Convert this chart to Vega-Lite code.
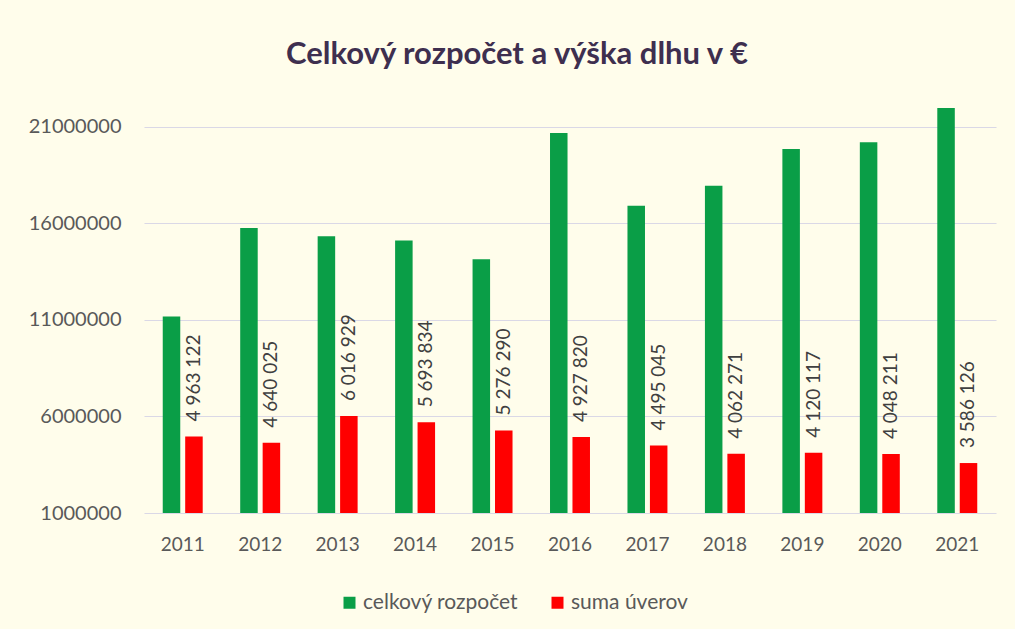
{
  "$schema": "https://vega.github.io/schema/vega-lite/v6.json",
  "width": 852,
  "height": 425,
  "autosize": {"type": "none"},
  "padding": {"left": 144, "top": 88, "right": 19, "bottom": 116},
  "background": "#FFFDEB",
  "config": {
    "view": {"stroke": null},
    "font": "Lato",
    "locale": {"number": {"decimal": ",", "thousands": " ", "grouping": [3], "currency": ["", " €"]}}
  },
  "title": {
    "text": "Celkový rozpočet a výška dlhu v €",
    "fontSize": 31,
    "fontWeight": "bold",
    "font": "Lato",
    "color": "#3E2F4F",
    "anchor": "middle",
    "dx": -53,
    "offset": 17
  },
  "data": {
    "values": [
      {"rok": "2011", "séria": "celkový rozpočet", "hodnota": 11170000},
      {"rok": "2012", "séria": "celkový rozpočet", "hodnota": 15750000},
      {"rok": "2013", "séria": "celkový rozpočet", "hodnota": 15320000},
      {"rok": "2014", "séria": "celkový rozpočet", "hodnota": 15110000},
      {"rok": "2015", "séria": "celkový rozpočet", "hodnota": 14140000},
      {"rok": "2016", "séria": "celkový rozpočet", "hodnota": 20670000},
      {"rok": "2017", "séria": "celkový rozpočet", "hodnota": 16900000},
      {"rok": "2018", "séria": "celkový rozpočet", "hodnota": 17940000},
      {"rok": "2019", "séria": "celkový rozpočet", "hodnota": 19840000},
      {"rok": "2020", "séria": "celkový rozpočet", "hodnota": 20190000},
      {"rok": "2021", "séria": "celkový rozpočet", "hodnota": 21970000},
      {"rok": "2011", "séria": "suma úverov", "hodnota": 4963122},
      {"rok": "2012", "séria": "suma úverov", "hodnota": 4640025},
      {"rok": "2013", "séria": "suma úverov", "hodnota": 6016929},
      {"rok": "2014", "séria": "suma úverov", "hodnota": 5693834},
      {"rok": "2015", "séria": "suma úverov", "hodnota": 5276290},
      {"rok": "2016", "séria": "suma úverov", "hodnota": 4927820},
      {"rok": "2017", "séria": "suma úverov", "hodnota": 4495045},
      {"rok": "2018", "séria": "suma úverov", "hodnota": 4062271},
      {"rok": "2019", "séria": "suma úverov", "hodnota": 4120117},
      {"rok": "2020", "séria": "suma úverov", "hodnota": 4048211},
      {"rok": "2021", "séria": "suma úverov", "hodnota": 3586126}
    ]
  },
  "encoding": {
    "x": {
      "field": "rok",
      "type": "nominal",
      "scale": {"paddingInner": 0.484, "paddingOuter": 0.242},
      "axis": {
        "title": null,
        "labelAngle": 0,
        "domain": false,
        "ticks": false,
        "labelPadding": 22,
        "labelFontSize": 19,
        "labelColor": "#595959",
        "labelFont": "Lato"
      }
    },
    "xOffset": {
      "field": "séria",
      "type": "nominal",
      "scale": {"paddingInner": 0.22, "paddingOuter": 0}
    },
    "y": {
      "field": "hodnota",
      "type": "quantitative",
      "scale": {"domain": [1000000, 23000000], "zero": false, "nice": false},
      "axis": {
        "title": null,
        "values": [1000000, 6000000, 11000000, 16000000, 21000000],
        "format": "d",
        "domain": false,
        "ticks": false,
        "labelPadding": 23,
        "labelFontSize": 20,
        "labelColor": "#595959",
        "labelFont": "Lato",
        "gridColor": "#DAD8E6",
        "gridWidth": 1.2
      }
    }
  },
  "layer": [
    {
      "mark": {"type": "bar"},
      "encoding": {
        "y2": {"datum": 1000000},
        "color": {
          "field": "séria",
          "type": "nominal",
          "scale": {"domain": ["celkový rozpočet", "suma úverov"], "range": ["#0A9E47", "#FF0000"]},
          "legend": {
            "title": null,
            "orient": "none",
            "direction": "horizontal",
            "legendX": 195,
            "legendY": 504,
            "symbolType": "square",
            "symbolSize": 144,
            "symbolStrokeWidth": 0,
            "labelFontSize": 21,
            "labelColor": "#595959",
            "labelFont": "Lato",
            "labelOffset": 3,
            "columnPadding": 28
          }
        }
      }
    },
    {
      "transform": [{"filter": "datum['séria'] === 'suma úverov'"}],
      "mark": {
        "type": "text",
        "angle": -90,
        "align": "left",
        "baseline": "middle",
        "dx": 15,
        "fontSize": 19,
        "font": "Lato",
        "color": "#404040"
      },
      "encoding": {
        "text": {"field": "hodnota", "type": "quantitative", "format": ",d"}
      }
    }
  ]
}
